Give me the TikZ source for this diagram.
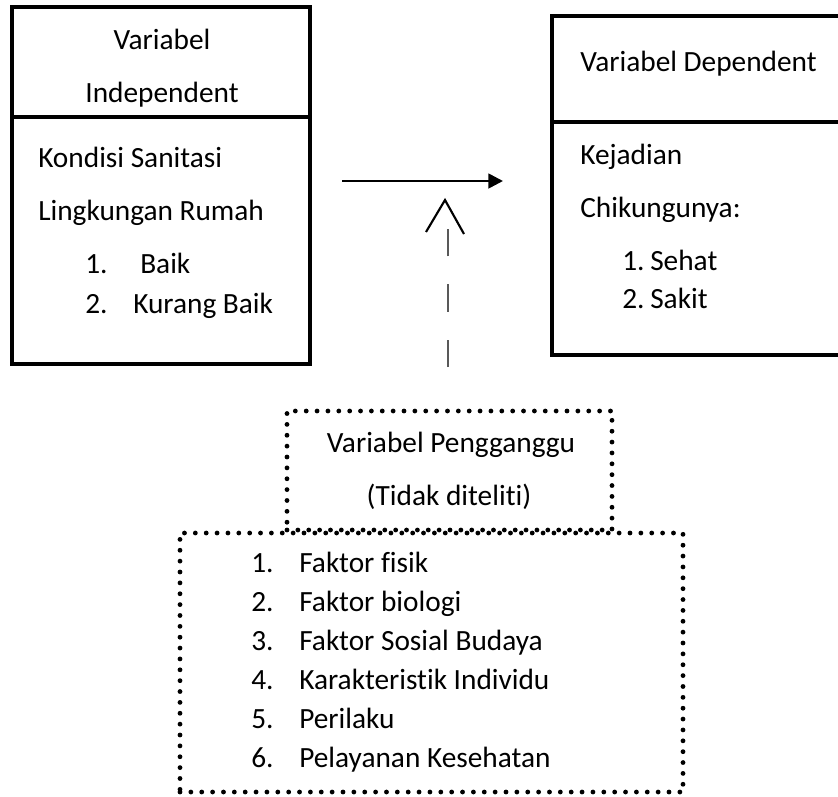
\documentclass[tikz,border=0pt]{standalone}
\usepackage{fontspec}
\setmainfont{Carlito}[Ligatures={NoCommon, NoRare, NoContextual}]
\usetikzlibrary{arrows.meta, positioning}

\begin{document}
\begin{tikzpicture}[x=0.75pt, y=-0.75pt, every node/.style={font=\fontsize{22}{26}\selectfont, inner sep=0pt},
  solidbox/.style={draw, rectangle, line width=2.8pt},
  dotbox/.style={draw, rectangle, line width=3.6pt, line cap=round, dash pattern=on 0pt off 8.15pt},
  txtleft/.style={anchor=base west}, txtmid/.style={anchor=base}]
  \clip (0,0) rectangle (838,796);

  \node (ind_head) [solidbox, minimum width=223.5pt, minimum height=82.5pt] at (161,62) {};
  \node (ind_body) [solidbox, minimum width=223.5pt, minimum height=185.25pt] at (161,240.5) {};
  \node (dep_head) [solidbox, minimum width=261pt, minimum height=79.5pt] at (726,69) {};
  \node (dep_body) [solidbox, minimum width=261pt, minimum height=174.75pt] at (726,238.5) {};
  \node (conf_head) [dotbox, minimum width=243.75pt, minimum height=89.25pt] at (449.5,470.5) {};
  \node (conf_body) [dotbox, minimum width=377.25pt, minimum height=194.25pt] at (431.5,662.5) {};

  \node (ind_t1) [txtmid] at (162,49) {Variabel};
  \node (ind_t2) [txtmid] at (162,102) {Independent};
  \node (ind_l1) [txtleft] at (38,167) {Kondisi Sanitasi};
  \node (ind_l2) [txtleft] at (38,220) {Lingkungan Rumah};
  \node (ind_n1) [txtleft] at (85,273) {1.};
  \node (ind_i1) [txtleft] at (140,273) {Baik};
  \node (ind_n2) [txtleft] at (85,313) {2.};
  \node (ind_i2) [txtleft] at (133,313) {Kurang Baik};

  \node (dep_t) [txtleft] at (580,71) {Variabel Dependent};
  \node (dep_l1) [txtleft] at (580,164) {Kejadian};
  \node (dep_l2) [txtleft] at (580,217) {Chikungunya:};
  \node (dep_n1) [txtleft] at (622,270) {1.};
  \node (dep_i1) [txtleft] at (650,270) {Sehat};
  \node (dep_n2) [txtleft] at (622,308) {2.};
  \node (dep_i2) [txtleft] at (650,308) {Sakit};

  \node (conf_t1) [txtmid] at (451,452) {Variabel Pengganggu};
  \node (conf_t2) [txtmid] at (449,505) {(Tidak diteliti)};
  \foreach \fac [count=\i] in {Faktor fisik, Faktor biologi, Faktor Sosial Budaya, Karakteristik Individu, Perilaku, Pelayanan Kesehatan} {
    \node (conf_n\i) [txtleft] at (251,{533+39*\i}) {\i.};
    \node (conf_i\i) [txtleft] at (299,{533+39*\i}) {\fac};
  }

  \coordinate (arr_start) at (342,181);
  \coordinate (arr_end) at (503,181);
  \coordinate (dash_start) at (448,367);
  \coordinate (dash_end) at (448,229);
  \coordinate (tip_left) at (426,232);
  \coordinate (tip_top) at (445,200);
  \coordinate (tip_right) at (464,234);

  \draw [-{Triangle[length=11pt, width=11pt]}, line width=2pt] (arr_start) -- (arr_end);
  \draw [gray!70!black, line width=1.1pt, dash pattern=on 20.5pt off 21pt] (dash_start) -- (dash_end);
  \draw [line width=1.6pt] (tip_left) -- (tip_top) -- (tip_right);
\end{tikzpicture}
\end{document}
